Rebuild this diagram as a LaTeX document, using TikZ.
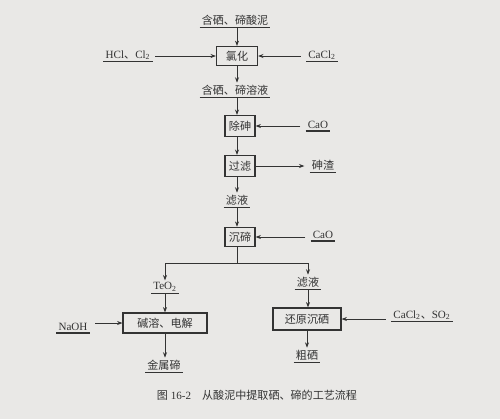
\documentclass[tikz,border=0pt]{standalone}
\usepackage{fontspec}
\setmainfont{Liberation Serif}
\newfontfamily\cjk{Noto Sans CJK SC}
\usetikzlibrary{arrows.meta}
\definecolor{paper}{HTML}{E9E8E6}
\definecolor{ink}{HTML}{333333}
\begin{document}
\begin{tikzpicture}[x=0.75pt,y=-0.75pt,
  txt/.style={inner sep=1.5pt, text=ink, font=\fontsize{8.3}{9}\selectfont},
  box/.style={txt, draw=ink, line width=0.9pt, inner sep=0pt, fill=paper},
  arr/.style={draw=ink, line width=0.5pt, -{Stealth[length=4pt,width=3pt]}},
  ln/.style={draw=ink, line width=0.5pt},
  ul/.style={draw=ink, line width=0.9pt}]
\fill[paper] (0,0) rectangle (500,419);
\useasboundingbox (0,0) rectangle (500,419);

% labels
\node[txt] (t1) at (235,20) {\cjk 含硒、碲酸泥};
\node[txt] (hcl) at (128,55) {HCl{\cjk 、}Cl\textsubscript{2}};
\node[txt] (cacl) at (322,55) {CaCl\textsubscript{2}};
\node[txt] (t2) at (235,90) {\cjk 含硒、碲溶液};
\node[txt] (cao1) at (318,125) {CaO};
\node[txt] (asz) at (323,165) {\cjk 砷渣};
\node[txt] (t3) at (237,200) {\cjk 滤液};
\node[txt] (cao2) at (323,235) {CaO};
\node[txt] (teo) at (165,287) {TeO\textsubscript{2}};
\node[txt] (naoh) at (73,327) {NaOH};
\node[txt] (te) at (164,365) {\cjk 金属碲};
\node[txt] (lr) at (308,282) {\cjk 滤液};
\node[txt] (so) at (422,315) {CaCl\textsubscript{2}{\cjk 、}SO\textsubscript{2}};
\node[txt] (se) at (307,355) {\cjk 粗硒};

% boxes
\node[box, minimum width=30.8pt, minimum height=14.2pt] (b1) at (237,56) {\cjk 氯化};
\node[box, minimum width=22.5pt, minimum height=15.8pt] (b2) at (240,126) {\cjk 除砷};
\node[box, minimum width=22.5pt, minimum height=15.8pt] (b3) at (240,166) {\cjk 过滤};
\node[box, minimum width=22.5pt, minimum height=14.5pt] (b4) at (240,237) {\cjk 沉碲};
\node[box, minimum width=63pt, minimum height=15pt] (b5) at (165,323) {\cjk 碱溶、电解};
\node[box, minimum width=51pt, minimum height=16.5pt] (b6) at (307,319) {\cjk 还原沉硒};

% caption
\node[txt] (cap) at (257,395) {{\cjk 图} 16-2\quad{\cjk 从酸泥中提取硒、碲的工艺流程}};

% underlines
\foreach \n in {t1,hcl,cacl,t2,cao1,asz,t3,cao2,teo,naoh,te,lr,so,se}
  \draw[ul] (\n.south west) -- (\n.south east);

% main flow
\draw[arr] (t1.south -| b1.north) -- (b1.north);
\draw[arr] ([xshift=2]hcl.east |- b1.west) -- (b1.west);
\draw[arr] ([xshift=-4]cacl.west |- b1.east) -- (b1.east);
\draw[arr] (b1.south) -- (b1.south |- t2.north);
\draw[arr] (t2.south -| b1.south) -- (b1.south |- b2.north);
\draw[arr] ([xshift=-4]cao1.west |- b2.east) -- (b2.east);
\draw[arr] (b1.south |- b2.south) -- (b1.south |- b3.north);
\draw[arr] (b3.east) -- ([xshift=-4]asz.west |- b3.east);
\draw[arr] (b1.south |- b3.south) -- (b1.south |- t3.north);
\draw[arr] (b1.south |- t3.south) -- (b1.south |- b4.north);
\draw[arr] ([xshift=-4]cao2.west |- b4.east) -- (b4.east);

% split
\coordinate (sp) at (237,263);
\coordinate (spl) at (165,263);
\coordinate (spr) at (308,263);
\draw[ln] (b1.south |- b4.south) -- (sp);
\draw[ln] (spl) -- (spr);
\draw[arr] (spl) -- (teo.north);
\draw[arr] (spr) -- (lr.north);

% left branch
\draw[arr] (teo.south) -- (b5.north);
\draw[arr] ([xshift=4]naoh.east |- b5.west) -- (b5.west);
\draw[arr] (b5.south) -- (te.north -| b5.south);

% right branch
\draw[arr] (lr.south) -- (lr.south |- b6.north);
\draw[arr] ([xshift=-4]so.west |- b6.east) -- (b6.east);
\draw[arr] (b6.south) -- (se.north -| b6.south);
\end{tikzpicture}
\end{document}
